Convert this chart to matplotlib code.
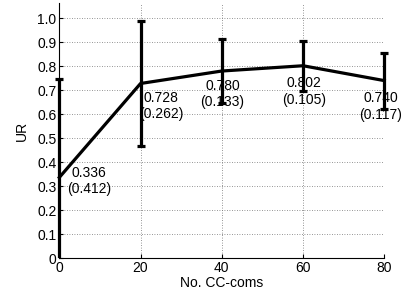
import matplotlib
matplotlib.use("Agg")
import matplotlib.pyplot as plt
from matplotlib.patches import Rectangle
import numpy as np

# data
n_coms = [0, 20, 40, 60, 80]
ur_mean = [0.336, 0.728, 0.780, 0.802, 0.740]
ur_std = [0.412, 0.262, 0.133, 0.105, 0.117]

plt.rcParams['font.family'] = ['Liberation Sans', 'DejaVu Sans']
plt.rcParams['font.size'] = 10

fig = plt.figure(figsize=(4.09, 2.99), dpi=100)
ax = fig.add_axes([59.3 / 409, (299 - 258) / 299, (384.3 - 59.3) / 409, (258 - 3.3) / 299])

eb = ax.errorbar(n_coms, ur_mean, yerr=ur_std, color='k', lw=2.3, elinewidth=2.3,
                 capsize=3, capthick=2.3, zorder=3)

# clip at y=0 only, let bars at the x limits show full width
clip = Rectangle((-0.05, 0), 1.1, 1.1, transform=ax.transAxes, visible=False)
ax.add_patch(clip)
eb[0].set_clip_path(clip)
for a in eb[1]:
    a.set_clip_path(clip)
for a in eb[2]:
    a.set_clip_path(clip)

# label placement (offset from each point, in data units)
dx = [7.3, 5.0, 0.2, 0.2, -0.8]
dy = [-0.015, -0.094, -0.096, -0.106, -0.107]
for x, m, s, ox, oy in zip(n_coms, ur_mean, ur_std, dx, dy):
    ax.text(x + ox, m + oy, "%.3f\n(%.3f)" % (m, s), ha='center', va='center',
            fontsize=10, linespacing=1.25, zorder=2)

ax.set_xlim(0, 80)
ax.set_ylim(0, 1.0625)
ax.set_xticks(n_coms)
yt = np.arange(0, 1.01, 0.1)
ax.set_yticks(yt)
ax.set_yticklabels(['0'] + ['%.1f' % v for v in yt[1:]])
ax.tick_params(direction='in', length=3, width=0.8, pad=2, labelsize=10)
ax.grid(True, linestyle=(0, (1, 2)), color='0.45', lw=0.6)
ax.set_axisbelow(True)
for sp in ['top', 'right']:
    ax.spines[sp].set_visible(False)
ax.spines['left'].set_linewidth(0.8)
ax.spines['bottom'].set_linewidth(0.8)

ax.set_xlabel('No. CC-coms', labelpad=1)
ax.set_ylabel('UR', labelpad=6)

fig.savefig('out.png', dpi=100)
